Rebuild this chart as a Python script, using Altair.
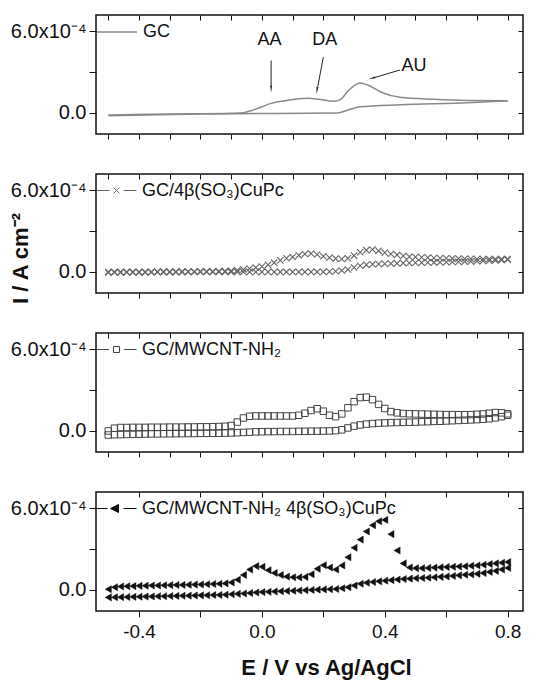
import altair as alt
import pandas as pd

# ---------------- data (current in units of 1e-4 A cm^-2) ----------------
E = [-0.50, -0.48, -0.46, -0.44, -0.42, -0.40,
     -0.38, -0.36, -0.34, -0.32, -0.30, -0.28,
     -0.26, -0.24, -0.22, -0.20, -0.18, -0.16,
     -0.14, -0.12, -0.10, -0.08, -0.06, -0.04,
     -0.02, 0.00, 0.02, 0.04, 0.06, 0.08,
     0.10, 0.12, 0.14, 0.16, 0.18, 0.20,
     0.22, 0.24, 0.26, 0.28, 0.30, 0.32,
     0.34, 0.36, 0.38, 0.40, 0.42, 0.44,
     0.46, 0.48, 0.50, 0.52, 0.54, 0.56,
     0.58, 0.60, 0.62, 0.64, 0.66, 0.68,
     0.70, 0.72, 0.74, 0.76, 0.78, 0.80]

# GC (solid line) - key points
gc_fwd_E = [-0.50, -0.30, -0.10, -0.06, -0.03, 0.00, 0.03, 0.08, 0.15, 0.19,
            0.235, 0.257, 0.28, 0.32, 0.345, 0.39, 0.45, 0.56, 0.67, 0.80]
gc_fwd_I = [-0.15, -0.08, -0.02, 0.02, 0.20, 0.45, 0.70, 0.92, 1.08, 0.98,
            0.85, 1.00, 1.60, 2.20, 2.05, 1.50, 1.15, 1.00, 0.92, 0.90]
gc_rev_E = [-0.50, -0.20, 0.02, 0.247, 0.28, 0.32, 0.45, 0.67, 0.80]
gc_rev_I = [-0.20, -0.08, -0.04, 0.00, 0.22, 0.45, 0.60, 0.75, 0.90]

# GC/4b(SO3)CuPc (crosses)
cupc_fwd = [0.00, 0.00, 0.00, 0.00, 0.00, 0.00,
            0.00, 0.00, 0.02, 0.02, 0.02, 0.02,
            0.03, 0.03, 0.03, 0.04, 0.04, 0.04,
            0.05, 0.06, 0.08, 0.12, 0.18, 0.25,
            0.32, 0.40, 0.52, 0.68, 0.85, 1.00,
            1.10, 1.22, 1.32, 1.35, 1.28, 1.15,
            1.05, 0.98, 0.95, 1.00, 1.20, 1.45,
            1.60, 1.65, 1.55, 1.42, 1.32, 1.25,
            1.18, 1.12, 1.10, 1.07, 1.05, 1.02,
            1.00, 1.00, 0.98, 0.98, 0.97, 0.96,
            0.95, 0.95, 0.95, 0.95, 0.95, 0.95]
cupc_rev = [-0.05, -0.04, -0.04, -0.03, -0.03, -0.03,
            -0.03, -0.02, -0.02, -0.02, -0.02, -0.02,
            -0.02, -0.01, -0.01, -0.01, -0.01, -0.01,
            -0.01, 0.00, 0.00, 0.00, 0.00, 0.00,
            0.00, 0.00, 0.00, 0.00, 0.00, 0.00,
            0.00, 0.00, 0.00, 0.00, 0.00, 0.00,
            0.02, 0.05, 0.10, 0.18, 0.32, 0.45,
            0.52, 0.56, 0.58, 0.60, 0.62, 0.63,
            0.65, 0.66, 0.67, 0.68, 0.69, 0.70,
            0.71, 0.72, 0.73, 0.75, 0.76, 0.77,
            0.78, 0.80, 0.82, 0.84, 0.87, 0.90]

# GC/MWCNT-NH2 (open squares)
mwcnt_fwd = [0.00, 0.20, 0.25, 0.25, 0.26, 0.26,
             0.26, 0.27, 0.27, 0.27, 0.28, 0.28,
             0.28, 0.29, 0.29, 0.30, 0.30, 0.31,
             0.32, 0.34, 0.40, 0.65, 0.95, 1.08,
             1.10, 1.10, 1.10, 1.10, 1.10, 1.10,
             1.10, 1.15, 1.30, 1.50, 1.63, 1.45,
             1.15, 1.05, 1.25, 1.70, 2.15, 2.45,
             2.48, 2.30, 1.95, 1.65, 1.42, 1.33,
             1.28, 1.26, 1.25, 1.24, 1.23, 1.22,
             1.21, 1.20, 1.20, 1.19, 1.19, 1.20,
             1.22, 1.25, 1.30, 1.35, 1.33, 1.26]
mwcnt_rev = [-0.30, -0.28, -0.27, -0.26, -0.25, -0.24,
             -0.23, -0.22, -0.22, -0.21, -0.21, -0.20,
             -0.20, -0.19, -0.19, -0.18, -0.18, -0.17,
             -0.17, -0.16, -0.15, -0.13, -0.11, -0.09,
             -0.07, -0.06, -0.05, -0.05, -0.04, -0.04,
             -0.04, -0.03, -0.03, -0.02, -0.02, -0.01,
             0.00, 0.02, 0.08, 0.22, 0.35, 0.44,
             0.50, 0.54, 0.57, 0.59, 0.61, 0.62,
             0.63, 0.64, 0.65, 0.67, 0.68, 0.70,
             0.71, 0.73, 0.75, 0.77, 0.79, 0.81,
             0.83, 0.86, 0.90, 0.96, 1.05, 1.15]

# GC/MWCNT-NH2 4b(SO3)CuPc (filled left triangles)
hyb_fwd = [0.05, 0.20, 0.25, 0.27, 0.28, 0.30,
           0.31, 0.32, 0.33, 0.34, 0.35, 0.36,
           0.37, 0.38, 0.39, 0.40, 0.42, 0.43,
           0.45, 0.48, 0.55, 0.75, 1.10, 1.50,
           1.75, 1.70, 1.45, 1.25, 1.10, 0.98,
           0.93, 0.92, 0.95, 1.15, 1.55, 1.82,
           1.65, 1.50, 1.80, 2.40, 3.10, 3.70,
           4.30, 4.75, 5.05, 5.15, 4.10, 2.90,
           1.95, 1.65, 1.60, 1.60, 1.62, 1.64,
           1.66, 1.68, 1.70, 1.72, 1.74, 1.77,
           1.80, 1.85, 1.90, 1.95, 2.00, 2.05]
hyb_rev = [-0.55, -0.54, -0.53, -0.52, -0.51, -0.50,
           -0.49, -0.48, -0.47, -0.46, -0.45, -0.44,
           -0.43, -0.42, -0.41, -0.40, -0.39, -0.38,
           -0.37, -0.35, -0.32, -0.29, -0.26, -0.23,
           -0.19, -0.16, -0.14, -0.12, -0.10, -0.08,
           -0.06, -0.04, -0.02, 0.00, 0.02, 0.04,
           0.05, 0.07, 0.12, 0.20, 0.32, 0.45,
           0.53, 0.58, 0.63, 0.68, 0.72, 0.76,
           0.80, 0.83, 0.86, 0.88, 0.90, 0.93,
           0.96, 0.99, 1.03, 1.07, 1.11, 1.14,
           1.18, 1.24, 1.32, 1.40, 1.50, 1.62]

series_names = ["GC", "GC/4β(SO₃)CuPc", "GC/MWCNT-NH₂", "GC/MWCNT-NH₂ 4β(SO₃)CuPc"]

# peak annotations in panel 1
annot_labels = ["AA", "DA", "AU"]
annot_x = [0.025, 0.205, 0.495]
annot_y = [5.33, 5.33, 3.48]
arrow_x0 = [0.03, 0.20, 0.45]
arrow_y0 = [3.85, 4.10, 3.16]
arrow_x1 = [0.03, 0.182, 0.37]
arrow_y1 = [2.05, 1.95, 2.62]
arrow_tip_x = [0.03, 0.18, 0.362]
arrow_tip_y = [1.85, 1.75, 2.58]
arrow_angle = [180, 189, 254]

# ---------------- styling ----------------
FONT = "Liberation Sans"
X_DOM = [-0.54, 0.85]
Y_DOM = [-1.55, 7.2]
W, H = 427, 119
xs = alt.Scale(domain=X_DOM, nice=False, zero=False)
ys = alt.Scale(domain=Y_DOM, nice=False, zero=False)

TICKS_01 = [-0.5, -0.4, -0.3, -0.2, -0.1, 0.0, 0.1, 0.2, 0.3, 0.4, 0.5, 0.6, 0.7, 0.8]
TICKS_02 = [-0.4, -0.2, 0.0, 0.2, 0.4, 0.6, 0.8]
Y_TICKS = [0, 3, 6]

left_label = "datum.value == 6 ? '6.0x10⁻⁴' : (datum.value == 0 ? '0.0' : '')"


def left_axis(title=None):
    kw = dict(orient="left", values=Y_TICKS, labelExpr=left_label, tickSize=7,
              labelPadding=3, labelFontSize=20)
    if title:
        kw.update(title=title, titleFontSize=22, titleFont=FONT, titleFontWeight="bold",
                  titleX=-64, titleY=84, titleAngle=270, titleAlign="center",
                  titleBaseline="bottom", titleColor="#111")
    else:
        kw.update(title=None)
    return alt.Axis(**kw)


def bottom_axis(last=False):
    if last:
        return alt.Axis(orient="bottom", values=TICKS_02, tickSize=6,
                        labelExpr="abs(round(datum.value*10)) % 4 == 0 ? replace(format(datum.value, '.1f'), '\u2212', '-') : ''",
                        labelFontSize=19, labelPadding=5,
                        title="E / V vs Ag/AgCl", titleFontSize=22, titleFont=FONT,
                        titleFontWeight="bold", titleColor="#111", titlePadding=16,
                        titleX=230)
    return alt.Axis(orient="bottom", values=TICKS_01, tickSize=5, labels=False, title=None)


def top_axis(last=False):
    return alt.Axis(orient="top", values=TICKS_02 if last else TICKS_01, tickSize=5,
                    offset=-5, labels=False, title=None, domain=False)


right_axis = alt.Axis(orient="right", values=Y_TICKS, tickSize=5, offset=-5,
                      labels=False, title=None, domain=False)


def legend(path, size=1600, sw=1.0):
    return alt.Legend(orient="none", legendX=0, legendY=-4, title=None,
                      symbolType=path, symbolSize=size, symbolStrokeWidth=sw,
                      labelFont=FONT, labelFontSize=18, labelColor="#111",
                      labelOffset=5, labelLimit=400, padding=0)


def marker_df(fwd, rev, name):
    rows = []
    for e, v in zip(E, fwd):
        rows.append({"E": e, "I": v, "branch": "fwd", "series": name})
    for e, v in zip(E, rev):
        rows.append({"E": e, "I": v, "branch": "rev", "series": name})
    return pd.DataFrame(rows)


def frame_layer(df, last=False):
    return alt.Chart(df).mark_point(opacity=0).encode(
        x=alt.X("E:Q", scale=xs, axis=top_axis(last)),
        y=alt.Y("I:Q", scale=ys, axis=right_axis),
    )


def panel(main, df, extras=(), last=False):
    return alt.layer(main, frame_layer(df, last), *extras).resolve_axis(
        x="independent", y="independent").properties(width=W, height=H)


# ---------- panel 1: GC line ----------
gc_rows = [{"E": e, "I": v, "branch": "fwd", "series": series_names[0]} for e, v in zip(gc_fwd_E, gc_fwd_I)]
gc_rows += [{"E": e, "I": v, "branch": "rev", "series": series_names[0]} for e, v in zip(gc_rev_E, gc_rev_I)]
gc_df = pd.DataFrame(gc_rows)

gc_main = alt.Chart(gc_df).mark_line(interpolate="monotone", strokeWidth=1.5).encode(
    x=alt.X("E:Q", scale=xs, axis=bottom_axis()),
    y=alt.Y("I:Q", scale=ys, axis=left_axis()),
    detail="branch:N",
    stroke=alt.Stroke("series:N", scale=alt.Scale(domain=[series_names[0]], range=["#8a8a8a"]),
                      legend=legend("M-1,0H1", sw=1.5)),
)

ann_df = pd.DataFrame({"label": annot_labels, "x": annot_x, "y": annot_y,
                       "x0": arrow_x0, "y0": arrow_y0, "x1": arrow_x1, "y1": arrow_y1,
                       "tx": arrow_tip_x, "ty": arrow_tip_y, "ang": arrow_angle})
ann_text = alt.Chart(ann_df).mark_text(font=FONT, fontSize=18, color="#111").encode(
    x=alt.X("x:Q", scale=xs, axis=None), y=alt.Y("y:Q", scale=ys, axis=None), text="label:N")
ann_rule = alt.Chart(ann_df).mark_rule(color="#222", strokeWidth=1).encode(
    x=alt.X("x0:Q", scale=xs, axis=None), y=alt.Y("y0:Q", scale=ys, axis=None),
    x2="x1:Q", y2="y1:Q")
ann_head = alt.Chart(ann_df).mark_point(shape="wedge", filled=True, color="#222", size=70, opacity=1).encode(
    x=alt.X("tx:Q", scale=xs, axis=None), y=alt.Y("ty:Q", scale=ys, axis=None),
    angle=alt.Angle("ang:Q", scale=None))

p1 = panel(gc_main, gc_df, extras=(ann_rule, ann_head, ann_text))

# ---------- panel 2: crosses ----------
cupc_df = marker_df(cupc_fwd, cupc_rev, series_names[1])
cupc_main = alt.Chart(cupc_df).mark_point(shape="M-1,-1L1,1M-1,1L1,-1", filled=False, size=40,
                                          strokeWidth=1.1, opacity=1).encode(
    x=alt.X("E:Q", scale=xs, axis=bottom_axis()),
    y=alt.Y("I:Q", scale=ys, axis=left_axis("I / A cm⁻²")),
    stroke=alt.Stroke("series:N", scale=alt.Scale(domain=[series_names[1]], range=["#666666"]),
                      legend=legend("M-1,0H-0.35M0.35,0H1M-0.15,-0.15L0.15,0.15M-0.15,0.15L0.15,-0.15")),
)
p2 = panel(cupc_main, cupc_df)

# ---------- panel 3: open squares ----------
mw_df = marker_df(mwcnt_fwd, mwcnt_rev, series_names[2])
mw_main = alt.Chart(mw_df).mark_point(shape="square", filled=False, size=42, strokeWidth=1, opacity=1).encode(
    x=alt.X("E:Q", scale=xs, axis=bottom_axis()),
    y=alt.Y("I:Q", scale=ys, axis=left_axis()),
    stroke=alt.Stroke("series:N", scale=alt.Scale(domain=[series_names[2]], range=["#444444"]),
                      legend=legend("M-1,0H-0.38M0.38,0H1M-0.15,-0.15H0.15V0.15H-0.15Z")),
)
p3 = panel(mw_main, mw_df)

# ---------- panel 4: filled triangles ----------
hy_df = marker_df(hyb_fwd, hyb_rev, series_names[3])
hy_main = alt.Chart(hy_df).mark_point(shape="triangle-left", filled=True, fill="#111", size=50,
                                      strokeWidth=0.5, opacity=1).encode(
    x=alt.X("E:Q", scale=xs, axis=bottom_axis(last=True)),
    y=alt.Y("I:Q", scale=ys, axis=left_axis()),
    stroke=alt.Stroke("series:N", scale=alt.Scale(domain=[series_names[3]], range=["#111111"]),
                      legend=legend("M-1,0H-0.45M-0.3,0L0.1,-0.2L0.1,0.2ZM0.35,0H1")),
)
p4 = panel(hy_main, hy_df, last=True)

chart = alt.vconcat(p1, p2, p3, p4, spacing=40, bounds="flush").resolve_scale(
    stroke="independent").resolve_legend(stroke="independent").properties(
    padding={"left": 0, "top": 2, "right": 5, "bottom": 2}
).configure_view(stroke="#111", strokeWidth=1.5).configure_axis(
    grid=False, domain=False, tickColor="#111", tickWidth=1,
    labelFont=FONT, labelColor="#111"
)

chart.save("out.html", embed_options={"renderer": "svg", "actions": False})
